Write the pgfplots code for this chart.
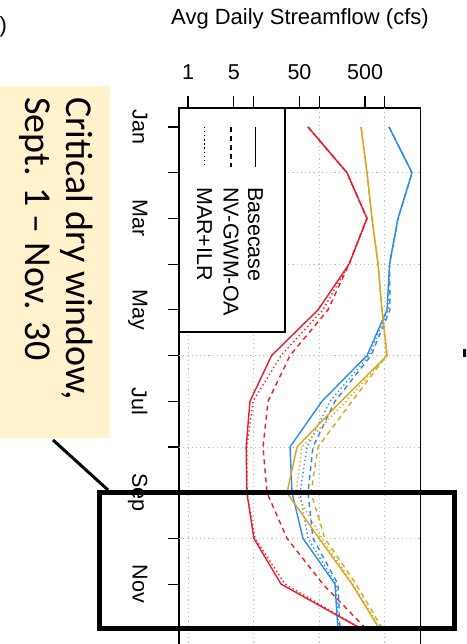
\documentclass[border=0pt]{standalone}
\usepackage{fontspec}
\setmainfont{Liberation Sans}
\newfontfamily\calibri{Carlito}
\usepackage{pgfplots}
\usepackage{pgfplotstable}
\pgfplotsset{compat=1.18}
\definecolor{cred}{RGB}{232,30,40}
\definecolor{cgold}{RGB}{218,165,32}
\definecolor{cblue}{RGB}{45,140,230}
\definecolor{beige}{RGB}{255,242,204}

% m = month (1 = Jan); s = Basecase, d = NV-GWM-OA, t = MAR+ILR
\pgfplotstableread{
m  rs    rd    rt
1  67.5  67.5  67.5
2  265   265   265
3  535   535   535
4  285   285   285
5  96    136   114
6  18.8  35.9  26.2
7  8.8   16.6  9.8
8  7.7   13.9  7.9
9  7.9   16.0  7.9
10 10.1  32.3  10.5
11 26.2  114   30.1
12 465   535   465
}\redtab
\pgfplotstableread{
m  gs    gd    gt
1  434   434   434
2  535   535   535
3  638   638   638
4  788   788   788
5  906   906   906
6  1081  1062  1081
7  215   316   256
8  45.9  95.9  54.7
9  32.3  75.0  44.3
10 99.3  122   110
11 316   364   327
12 845   939   875
}\goldtab
\pgfplotstableread{
m  bs    bd    bt
1  1159  1159  1159
2  2600  2600  2600
3  1589  1589  1589
4  1180  1180  1180
5  1081  1200  1120
6  535   616   574
7  110   174   146
8  35.9  80.4  65.2
9  38.5  67.5  51.0
10 56.6  80.4  67.5
11 174   193   180
12 193   208   200
}\bluetab

\begin{document}
\begin{tikzpicture}
\useasboundingbox (0pt,0pt) rectangle (466pt,644pt);
\clip (0pt,0pt) rectangle (466pt,644pt);
\fill[beige] (0pt,558pt) rectangle (110pt,206pt);
\node[rotate=-90, anchor=north west, inner sep=0pt, align=left,
      font=\calibri\fontsize{38}{40.5}\selectfont] at (93pt,547pt)
      {Critical dry window,\\Sept. 1 – Nov. 30};
\node[anchor=base west, inner sep=0pt, font=\fontsize{22}{26}\selectfont] at (-0.5pt,611.5pt) {)};
\node[anchor=base, inner sep=0pt, font=\fontsize{22}{26}\selectfont] at (300pt,619pt) {Avg Daily Streamflow (cfs)};

\begin{axis}[
  at={(179pt,-5pt)}, anchor=south west,
  scale only axis, width=241.5pt, height=541pt,
  xmode=log, log basis x=10, xmin=0.729, xmax=3500,
  ymin=0.584, ymax=12.42, y dir=reverse,
  axis line style={line width=1.2pt, black},
  xtick pos=right, xticklabel pos=right, ytick pos=left,
  tick align=outside, major tick length=11.5pt,
  tick style={line width=1.2pt, black},
  xtick={1,5,10,50,100,500,1000}, xticklabels={1,5,,50,,500,},
  extra x ticks={1,10,100,1000}, extra x tick labels={}, extra x tick style={grid=major},
  ytick={1,3,5,7,9,11}, yticklabels={Jan,Mar,May,Jul,Sep,Nov},
  extra y ticks={2,4,6,8,10,12}, extra y tick labels={}, extra y tick style={grid=major},
  grid style={gray!50, line width=0.8pt, dash pattern=on 1.2pt off 3pt},
  ticklabel style={font=\fontsize{21.5}{25}\selectfont, inner sep=0pt},
  xticklabel style={anchor=base},
  xticklabel shift=17pt,
  yticklabel style={rotate=-90, anchor=north},
  yticklabel shift=20pt,
  /pgf/number format/assume math mode=true,
  clip=true,
]
\addplot[cblue, line width=1.4pt] table[x=bs, y=m] {\bluetab};
\addplot[cblue, line width=1.4pt, dash pattern=on 5pt off 4pt] table[x=bd, y=m] {\bluetab};
\addplot[cblue, line width=1.4pt, dash pattern=on 1.3pt off 2.8pt] table[x=bt, y=m] {\bluetab};
\addplot[cgold, line width=1.4pt] table[x=gs, y=m] {\goldtab};
\addplot[cgold, line width=1.4pt, dash pattern=on 5pt off 4pt] table[x=gd, y=m] {\goldtab};
\addplot[cgold, line width=1.4pt, dash pattern=on 1.3pt off 2.8pt] table[x=gt, y=m] {\goldtab};
\addplot[cred, line width=1.4pt] table[x=rs, y=m] {\redtab};
\addplot[cred, line width=1.4pt, dash pattern=on 5pt off 4pt] table[x=rd, y=m] {\redtab};
\addplot[cred, line width=1.4pt, dash pattern=on 1.3pt off 2.8pt] table[x=rt, y=m] {\redtab};
\end{axis}

% legend
\draw[line width=1.2pt, fill=white] (179pt,536pt) rectangle (285pt,312pt);
\draw[line width=1.3pt] (255.5pt,517pt) -- (255.5pt,477pt);
\draw[line width=1.3pt, dash pattern=on 5pt off 4pt] (231pt,517pt) -- (231pt,477pt);
\draw[line width=1.3pt, dash pattern=on 1.3pt off 2.8pt] (204.5pt,517pt) -- (204.5pt,477pt);
\begin{scope}[every node/.style={rotate=-90, anchor=base west, inner sep=0pt, font=\fontsize{21.5}{25}\selectfont}]
\node at (248pt,457pt) {Basecase};
\node at (223.5pt,457pt) {NV-GWM-OA};
\node at (197pt,457pt) {MAR+ILR};
\end{scope}

% callout
\draw[line width=5pt] (99pt,151pt) rectangle (454pt,15pt);
\draw[line width=3pt] (53pt,204pt) -- (108pt,154pt);
\fill (463pt,295pt) rectangle (467pt,287pt);
\end{tikzpicture}
\end{document}
